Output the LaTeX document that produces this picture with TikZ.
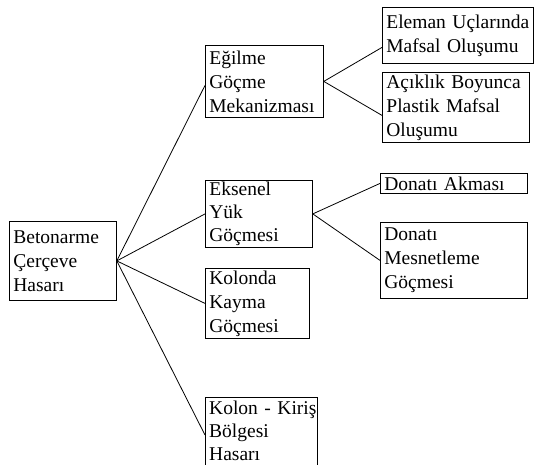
\documentclass[tikz,border=0pt]{standalone}
\usepackage{fontspec}
\setmainfont{Liberation Serif}
\begin{document}
\begin{tikzpicture}[x=1pt,y=-1pt,
  txt/.style={anchor=north west, align=left, inner xsep=4pt, inner ysep=1pt,
    font=\fontsize{19.5}{24}\selectfont},
  box/.style={txt, draw, line width=0.8pt},
  conn/.style={line width=0.8pt}]
\useasboundingbox (0,0) rectangle (534,464);
\node[box, text width=99pt,  minimum height=79pt] (bet)   at (9,221)  {Betonarme\\Çerçeve\\Hasarı};
\node[box, text width=110pt, minimum height=72pt] (egil)  at (205,45) {Eğilme\\Göçme\\Mekanizması};
\node[box, text width=143pt, minimum height=56pt] (elem)  at (382,7)  {Eleman Uçlarında\\Mafsal Oluşumu};
\node[box, text width=139pt, minimum height=70pt] (acik)  at (382,72) {Açıklık Boyunca\\Plastik Mafsal\\Oluşumu};
\node[box, text width=99pt,  minimum height=67pt, font=\fontsize{19.5}{23}\selectfont] (eks) at (205,180) {Eksenel\\Yük\\Göçmesi};
\node[box, text width=139pt, minimum height=20pt] (dak)   at (380,173) {Donatı Akması};
\node[box, text width=139pt, minimum height=76pt] (dmes)  at (380,222) {Donatı\\Mesnetleme\\Göçmesi};
\node[box, text width=96pt,  minimum height=70pt] (kol)   at (205,268) {Kolonda\\Kayma\\Göçmesi};
\node[txt, text width=104pt, inner ysep=4pt, font=\fontsize{19.5}{23}\selectfont] (kiris) at (205,397) {\mbox{Kolon - Kiriş}\\Bölgesi\\Hasarı};
\draw[conn] (kiris.north west) ++(0,80) -- (kiris.north west) -- (kiris.north east) -- ++(0,80);
\draw[conn] (bet.east) -- ([yshift=-4pt]egil.west);
\draw[conn] (bet.east) -- (eks.west);
\draw[conn] (bet.east) -- (kol.west);
\draw[conn] (bet.east) -- ([yshift=-38pt]kiris.north west);
\draw[conn] (egil.east) -- ([yshift=-12pt]elem.west);
\draw[conn] (egil.east) -- ([yshift=-8pt]acik.west);
\draw[conn] (eks.east) -- (dak.west);
\draw[conn] (eks.east) -- (dmes.west);
\end{tikzpicture}
\end{document}
